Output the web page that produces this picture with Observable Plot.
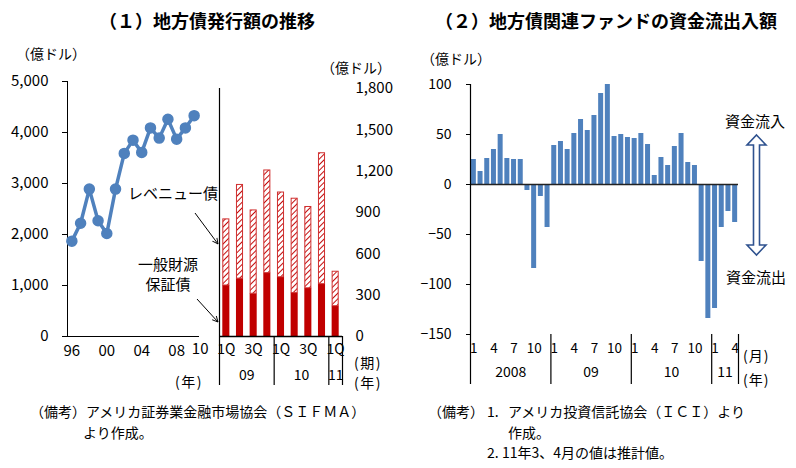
<!DOCTYPE html>
<html><head><meta charset="utf-8">
<script src="https://cdn.jsdelivr.net/npm/d3@7"></script>
<script src="https://cdn.jsdelivr.net/npm/@observablehq/plot@0.6"></script>
<style>
body{margin:0;background:#fff;}
#root{position:relative;width:796px;height:468px;background:#fff;font-family:"Noto Sans CJK JP","Noto Sans",sans-serif;overflow:hidden;}
#overlay{position:absolute;left:0;top:0;}
</style></head><body>
<div id="root">
<svg id="overlay" width="796" height="468" xmlns="http://www.w3.org/2000/svg">
  <defs>
    <pattern id="hatch" patternUnits="userSpaceOnUse" width="4" height="4" patternTransform="rotate(45)">
      <rect width="4" height="4" fill="#fff"/>
      <line x1="0" y1="0" x2="0" y2="4" stroke="#C00000" stroke-width="1.9"/>
    </pattern>
    <marker id="ah" viewBox="0 0 10 10" refX="9" refY="5" markerWidth="7" markerHeight="7" orient="auto" markerUnits="userSpaceOnUse">
      <path d="M1,1 L9,5 L1,9" fill="none" stroke="#000" stroke-width="1.3"/>
    </marker>
  </defs>
  <g font-family="Noto Sans CJK JP" fill="#000">
    <text x="207" y="20" text-anchor="middle" dominant-baseline="central" font-size="18" font-weight="700">（１）地方債発行額の推移</text>
    <text x="606" y="20" text-anchor="middle" dominant-baseline="central" font-size="18" font-weight="700">（２）地方債関連ファンドの資金流出入額</text>
    <text x="16" y="53" dominant-baseline="central" font-size="14">（億ドル）</text>
    <text x="321" y="67" dominant-baseline="central" font-size="14">（億ドル）</text>
    <text x="421" y="58" dominant-baseline="central" font-size="14">（億ドル）</text>
    <text x="128" y="192" dominant-baseline="central" font-size="15">レベニュー債</text>
    <text x="168" y="263" text-anchor="middle" dominant-baseline="central" font-size="15">一般財源</text>
    <text x="168" y="283" text-anchor="middle" dominant-baseline="central" font-size="15">保証債</text>
    <text x="189" y="381" text-anchor="middle" dominant-baseline="central" font-size="14" letter-spacing="1.5">(年)</text>
    <text x="354" y="362" dominant-baseline="central" font-size="14" letter-spacing="1.5">(期)</text>
    <text x="354" y="382" dominant-baseline="central" font-size="14" letter-spacing="1.5">(年)</text>
    <text x="743" y="355" dominant-baseline="central" font-size="14" letter-spacing="1">(月)</text>
    <text x="743" y="379" dominant-baseline="central" font-size="14" letter-spacing="1">(年)</text>
    <text x="755" y="120" text-anchor="middle" dominant-baseline="central" font-size="15">資金流入</text>
    <text x="756" y="276" text-anchor="middle" dominant-baseline="central" font-size="15">資金流出</text>
    <text x="30" y="411" dominant-baseline="central" font-size="14">（備考）アメリカ証券業金融市場協会（ＳＩＦＭＡ）</text>
    <text x="83" y="432" dominant-baseline="central" font-size="14">より作成。</text>
    <text x="428" y="411" dominant-baseline="central" font-size="14">（備考）</text>
    <text x="487" y="411" dominant-baseline="central" font-size="14">1.</text>
    <text x="508" y="411" dominant-baseline="central" font-size="14">アメリカ投資信託協会（ＩＣＩ）より</text>
    <text x="508" y="432" dominant-baseline="central" font-size="14">作成。</text>
    <text x="487" y="452" dominant-baseline="central" font-size="14">2.</text>
    <text x="502" y="452" dominant-baseline="central" font-size="14">11年3、4月の値は推計値。</text>
  </g>
  <line x1="195" y1="213" x2="218" y2="244" stroke="#000" stroke-width="1" marker-end="url(#ah)"/>
  <line x1="197" y1="299" x2="218" y2="322" stroke="#000" stroke-width="1" marker-end="url(#ah)"/>
  <path d="M756.5,135 L766,145 L759.5,145 L759.5,245 L766,245 L756.5,255 L747,245 L753.5,245 L753.5,145 L747,145 Z" fill="#fff" stroke="#2F528F" stroke-width="1.6" stroke-linejoin="miter"/>
</svg>
</div>
<script>
// ---- (1) left: annual issuance (100 million USD)
const years = [1996,1997,1998,1999,2000,2001,2002,2003,2004,2005,2006,2007,2008,2009,2010];
const issuance = [1870,2220,2890,2270,2020,2890,3590,3850,3610,4090,3890,4260,3870,4090,4330];
const yearTicks = [1996,2000,2004,2008];
const yearTickLabels = ["96","00","04","08"];
const lastYearTick = [2010];
const lastYearLabel = ["10"];

// ---- (1) right: quarterly issuance by type
const quarterLabels = ["1Q","","3Q","","1Q","","3Q","","1Q"];
const quarterYear = ["09","09","09","09","10","10","10","10","11"];
const generalObligation = [370,420,310,460,430,315,350,380,220];
const revenueBonds = [480,680,605,745,615,685,590,950,250];

// ---- (2) monthly fund flows (100 million USD)
const flowYearLabel = ["2008","09","10","11"];
const flowMonthsPerYear = [12,12,12,4];
const monthTickLabels = ["1","4","7","10"];
const fundFlows = [
  25,13,26,35,50,26,25,25,-6,-84,-12,-43,
  39,43,35,51,65,54,69,91,100,48,50,47,
  46,51,40,9,27,19,38,51,22,19,-77,-134,
  -124,-43,-27,-38
];

const FONT = '"Noto Sans CJK JP", "Noto Sans", sans-serif';
const root = document.getElementById("root");
function place(el, left, top) {
  el.style.position = "absolute";
  el.style.left = left + "px";
  el.style.top = top + "px";
  root.appendChild(el);
}

// Plot 1: line chart (category-style axis: each year occupies one slot)
const lineData = years.map((y, i) => ({year: y, value: issuance[i]}));
const p1 = Plot.plot({
  width: 200, height: 360,
  marginLeft: 67, marginRight: 2, marginTop: 41, marginBottom: 64,
  style: {background: "transparent", fontFamily: FONT, fontSize: "15px", color: "#000", overflow: "visible"},
  x: {domain: [years[0] - 0.5, years[years.length - 1] + 0.5], ticks: yearTicks, tickFormat: (d) => yearTickLabels[yearTicks.indexOf(d)], tickSize: 0, tickPadding: 9, line: true, label: null},
  y: {domain: [0, 5000], ticks: d3.range(0, 5001, 1000), tickFormat: d3.format(","), tickSize: 5, tickPadding: 14, line: true, label: null},
  marks: [
    Plot.line(lineData, {x: "year", y: "value", stroke: "#4F81BD", strokeWidth: 3.5}),
    Plot.dot(lineData, {x: "year", y: "value", r: 5, fill: "#4F81BD", stroke: "#4F81BD"}),
    Plot.text(lastYearTick, {x: (d) => d, text: (d, i) => lastYearLabel[i], frameAnchor: "bottom", dy: 17, dx: 6})
  ]
});
place(p1, 0, 40);

// Plot 2: quarterly stacked bars
const qData = quarterLabels.map((q, i) => ({i, q, go: generalObligation[i], rev: revenueBonds[i]}));
const qGroups = d3.groups(quarterYear.map((y, i) => ({y, i})), (d) => d.y)
  .map(([y, arr]) => ({label: y, start: arr[0].i, end: arr[arr.length - 1].i + 1}));
const qSeparators = qGroups.map((g) => g.end);
const p2 = Plot.plot({
  width: 200, height: 360,
  marginLeft: 19, marginRight: 58, marginTop: 48, marginBottom: 64,
  style: {background: "transparent", fontFamily: FONT, fontSize: "15px", color: "#000", overflow: "visible"},
  x: {domain: [0, quarterLabels.length], axis: null},
  y: {domain: [0, 1800], axis: "right", ticks: d3.range(0, 1801, 300), tickFormat: d3.format(","), tickSize: 0, tickPadding: 13, label: null},
  marks: [
    Plot.rect(qData, {x1: (d) => d.i, x2: (d) => d.i + 1, y1: () => 0, y2: (d) => d.go, fill: "#C00000", insetLeft: 3.3, insetRight: 3.3}),
    Plot.rect(qData, {x1: (d) => d.i, x2: (d) => d.i + 1, y1: (d) => d.go, y2: (d) => d.go + d.rev, fill: "url(#hatch)", stroke: "#D03030", strokeWidth: 1, insetLeft: 3.8, insetRight: 3.8}),
    Plot.ruleY([0], {stroke: "#000", strokeWidth: 1.3}),
    Plot.ruleX([0], {y1: () => 1800, y2: () => 0, insetBottom: -49, stroke: "#000", strokeWidth: 1.2}),
    Plot.ruleX(qSeparators, {x: (d) => d, y1: () => 0, y2: () => 0, insetBottom: -49, stroke: "#000", strokeWidth: 1.2}),
    Plot.text(qData.filter((d) => d.q), {x: (d) => d.i + 0.5, text: "q", frameAnchor: "bottom", dy: 17, fontSize: 14}),
    Plot.text(qGroups, {x: (d) => (d.start + d.end) / 2, text: "label", frameAnchor: "bottom", dy: 43, fontSize: 14})
  ]
});
place(p2, 200, 40);

// Plot 3: monthly fund flows
const flowData = fundFlows.map((v, i) => ({i, v}));
const fGroups = [];
{
  let s = 0;
  flowYearLabel.forEach((label, k) => { fGroups.push({label, start: s, end: s + flowMonthsPerYear[k]}); s += flowMonthsPerYear[k]; });
}
const monthTickData = [];
fGroups.forEach((g) => {
  monthTickLabels.forEach((m) => {
    const idx = g.start + (+m) - 1;
    if (idx < g.end) monthTickData.push({i: idx, label: m});
  });
});
const fSeparators = fGroups.map((g) => g.end);
const p3 = Plot.plot({
  width: 396, height: 360,
  marginLeft: 70, marginRight: 58, marginTop: 44, marginBottom: 66,
  style: {background: "transparent", fontFamily: FONT, fontSize: "14px", color: "#000", overflow: "visible"},
  x: {domain: [0, fundFlows.length], axis: null},
  y: {domain: [-150, 100], ticks: d3.range(-150, 101, 50), tickFormat: d3.format(""), tickSize: 4, tickPadding: 15, label: null},
  marks: [
    Plot.rect(flowData, {x1: (d) => d.i, x2: (d) => d.i + 1, y1: () => 0, y2: (d) => d.v, fill: "#4F81BD", insetLeft: 0.85, insetRight: 0.85}),
    Plot.ruleY([0], {stroke: "#222", strokeWidth: 1.5}),
    Plot.ruleX([0], {y1: () => 100, y2: () => -150, insetBottom: -50, stroke: "#000", strokeWidth: 1.2}),
    Plot.ruleX(fSeparators, {x: (d) => d, y1: () => -150, y2: () => -150, insetBottom: -50, stroke: "#000", strokeWidth: 1.2}),
    Plot.text(monthTickData, {x: (d) => d.i + 0.5, text: "label", frameAnchor: "bottom", dy: 18, fontSize: 13.5}),
    Plot.text(fGroups, {x: (d) => (d.start + d.end) / 2, text: "label", frameAnchor: "bottom", dy: 42, fontSize: 14})
  ]
});
place(p3, 400, 40);
</script>
</body></html>
